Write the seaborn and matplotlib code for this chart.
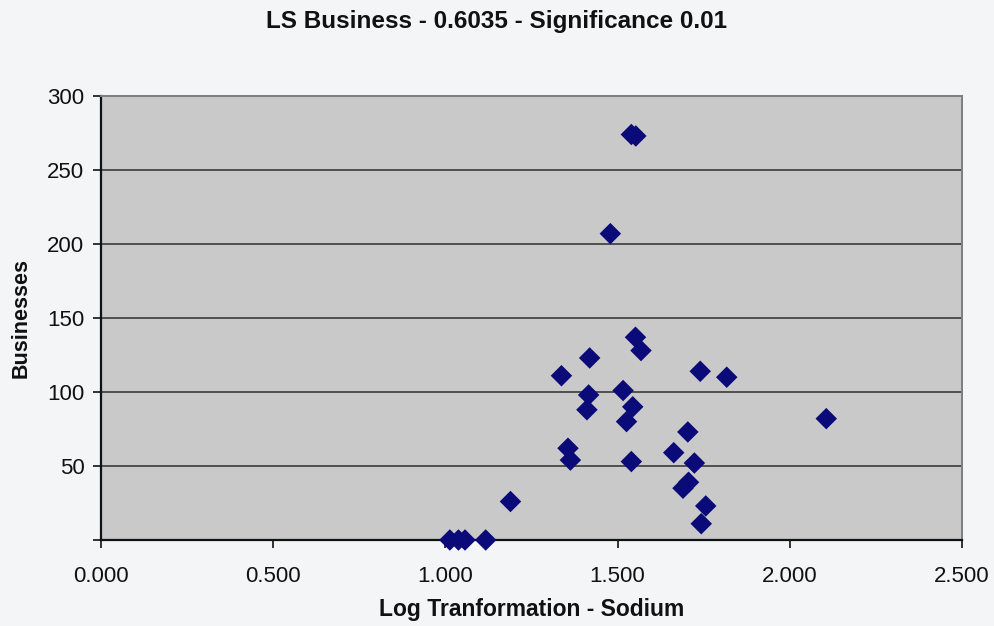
import matplotlib
matplotlib.use("Agg")
import matplotlib.pyplot as plt
import seaborn as sns
import pandas as pd

# Log-transformed sodium values and business counts per site
log_sodium = [1.540, 1.553, 1.479, 1.552, 1.568, 1.419, 1.337, 1.740, 1.817,
              1.416, 1.516, 1.544, 1.411, 1.526, 1.704, 1.356, 1.363, 1.663,
              1.540, 1.723, 1.706, 1.690, 1.756, 1.743, 2.106, 1.189,
              1.013, 1.038, 1.057, 1.117]
businesses = [274, 273, 207, 137, 128, 123, 111, 114, 110,
              98, 101, 90, 88, 80, 73, 62, 54, 59,
              53, 52, 39, 35, 23, 11, 82, 26,
              0, 0, 0, 0]

x_ticks = [0.0, 0.5, 1.0, 1.5, 2.0, 2.5]
y_ticks = [0, 50, 100, 150, 200, 250, 300]
y_tick_labels = ["", "50", "100", "150", "200", "250", "300"]

title = "LS Business - 0.6035 - Significance 0.01"
x_label = "Log Tranformation - Sodium"
y_label = "Businesses"

df = pd.DataFrame({"sodium": log_sodium, "businesses": businesses})

sns.set_theme(style="white")
plt.rcParams["font.family"] = ["Liberation Sans", "DejaVu Sans"]

fig = plt.figure(figsize=(9.95, 6.26), dpi=100, facecolor="#f3f5f6")
ax = fig.add_axes([0.1015, 0.1374, 0.8653, 0.7092])
ax.set_facecolor("#c9c9c9")

ax.set_xlim(0, 2.5)
ax.set_ylim(0, 300)
ax.set_yticks(y_ticks)
ax.set_yticklabels(y_tick_labels)
ax.set_xticks(x_ticks)
ax.set_xticklabels([f"{v:.3f}" for v in x_ticks])

for yv in y_ticks[1:-1]:
    ax.axhline(yv, color="#2e2e2e", linewidth=1.1, zorder=1)

sns.scatterplot(data=df, x="sodium", y="businesses", marker="D", s=120,
                color="#0a0a78", edgecolor="none", linewidth=0, ax=ax,
                zorder=3, clip_on=False)

for side in ("left", "bottom"):
    ax.spines[side].set_color("#111111")
    ax.spines[side].set_linewidth(1.6)
for side in ("top", "right"):
    ax.spines[side].set_color("#7d7d7d")
    ax.spines[side].set_linewidth(1.4)

ax.tick_params(axis="both", which="major", direction="out", length=6,
               width=1.2, color="#111111", labelsize=16, labelcolor="#111111")
ax.tick_params(axis="x", pad=13)
ax.tick_params(axis="y", pad=6)
ax.tick_params(left=True, bottom=True)

ax.set_xlabel(x_label, fontsize=16.5, fontweight="bold", labelpad=8, color="#111111")
ax.set_ylabel(y_label, fontsize=15.5, fontweight="bold", labelpad=11, color="#111111")
fig.text(0.4985, 0.965, title, ha="center", va="center", fontsize=17.5,
         fontweight="bold", color="#111111")

fig.savefig("out.png", dpi=100, facecolor=fig.get_facecolor())
